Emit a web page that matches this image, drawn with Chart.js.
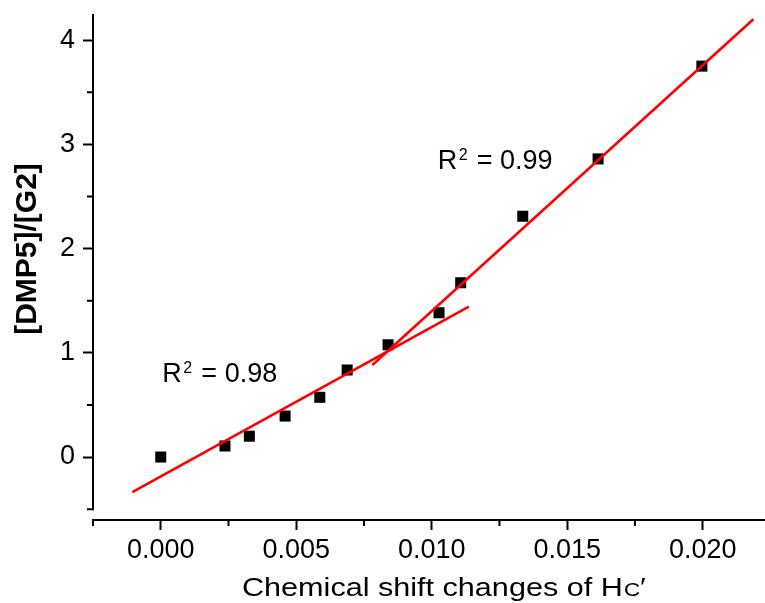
<!DOCTYPE html>
<html>
<head>
<meta charset="utf-8">
<script src="https://cdn.jsdelivr.net/npm/chart.js@4/dist/chart.umd.min.js"></script>
<style>
  html, body { margin: 0; padding: 0; background: #fff; }
  #wrap { width: 765px; height: 603px; }
</style>
</head>
<body>
<div id="wrap"><canvas id="fitChart" width="765" height="603"></canvas></div>
<script>
// measured points
const shiftX = [0.0000, 0.00237, 0.00327, 0.00459, 0.00587, 0.00688, 0.00839, 0.01027, 0.01107, 0.01336, 0.01614, 0.01997];
const ratioY = [0.00, 0.106, 0.20, 0.393, 0.573, 0.835, 1.077, 1.384, 1.672, 2.31, 2.86, 3.75];

// fitted lines (end points as drawn)
const fitLowX = [-0.00105, 0.01137];
const fitLowY = [-0.336, 1.442];
const fitHighX = [0.00781, 0.02187];
const fitHighY = [0.883, 4.20];

const xTicks = [0, 0.005, 0.010, 0.015, 0.020];
const yTicks = [0, 1, 2, 3, 4];
const xMinor = [-0.0025, 0.0025, 0.0075, 0.0125, 0.0175, 0.0225];
const yMinor = [-0.5, 0.5, 1.5, 2.5, 3.5];

const r2Labels = [
    { x: 0.00006, y: 0.72, text: "0.98" },
    { x: 0.01022, y: 2.76, text: "0.99" }
];

const FONT = "'Liberation Sans', Arial, sans-serif";

function toPoints(xs, ys) {
    return xs.map((x, i) => ({ x: x, y: ys[i] }));
}

// axis line for y, minor ticks, titles and R² notes
const extras = {
    id: "extras",
    afterDraw(chart) {
        const ctx = chart.ctx;
        const xs = chart.scales.x;
        const ys = chart.scales.y;
        const left = chart.chartArea.left;
        const bottom = chart.chartArea.bottom;

        ctx.save();
        ctx.strokeStyle = "#000";
        ctx.lineWidth = 2;

        // y axis stops at -0.5
        ctx.beginPath();
        ctx.moveTo(left, ys.getPixelForValue(-0.5) + 1);
        ctx.lineTo(left, chart.chartArea.top);
        ctx.stroke();

        ctx.beginPath();
        yMinor.forEach(v => {
            const p = ys.getPixelForValue(v);
            ctx.moveTo(left, p);
            ctx.lineTo(left - 6, p);
        });
        xMinor.forEach(v => {
            if (v > xs.max) return;
            const p = xs.getPixelForValue(v);
            ctx.moveTo(p, bottom);
            ctx.lineTo(p, bottom + 6);
        });
        ctx.stroke();

        ctx.fillStyle = "#000";

        // y title
        ctx.save();
        ctx.translate(28, 249);
        ctx.rotate(-Math.PI / 2);
        ctx.font = "bold 30px " + FONT;
        ctx.textAlign = "center";
        ctx.textBaseline = "middle";
        ctx.fillText("[DMP5]/[G2]", 0, 0);
        ctx.restore();

        // x title with small-cap c
        ctx.save();
        ctx.textBaseline = "alphabetic";
        ctx.textAlign = "left";
        const main = "Chemical shift changes of H";
        ctx.font = "26px " + FONT;
        const w1 = ctx.measureText(main).width;
        ctx.font = "19px " + FONT;
        const w2 = ctx.measureText("C").width;
        ctx.font = "26px " + FONT;
        const w3 = ctx.measureText("\u2032").width;
        const sx = 405 / (w1 + w2 + w3 + 2);
        ctx.translate(242, 596);
        ctx.scale(sx, 1);
        ctx.font = "26px " + FONT;
        ctx.fillText(main, 0, 0);
        ctx.font = "19px " + FONT;
        ctx.fillText("C", w1 + 1, 0);
        ctx.font = "26px " + FONT;
        ctx.fillText("\u2032", w1 + w2 + 1, 0);
        ctx.restore();

        // R² notes
        r2Labels.forEach(l => {
            const px = xs.getPixelForValue(l.x);
            const py = ys.getPixelForValue(l.y);
            ctx.save();
            ctx.textBaseline = "alphabetic";
            ctx.textAlign = "left";
            ctx.translate(px, py);
            ctx.font = "27px " + FONT;
            ctx.fillText("R", 0, 0);
            ctx.font = "16px " + FONT;
            ctx.fillText("2", 21, -9);
            ctx.font = "27px " + FONT;
            ctx.fillText("= " + l.text, 39, 0);
            ctx.restore();
        });

        ctx.restore();
    }
};

const ctx = document.getElementById("fitChart").getContext("2d");

const chart = new Chart(ctx, {
    type: "scatter",
    data: {
        datasets: [
            {
                type: "line",
                data: toPoints(fitLowX, fitLowY),
                borderColor: "#ff0000",
                borderWidth: 2.6,
                pointRadius: 0,
                fill: false,
                order: 0
            },
            {
                type: "line",
                data: toPoints(fitHighX, fitHighY),
                borderColor: "#ff0000",
                borderWidth: 2.6,
                pointRadius: 0,
                fill: false,
                order: 0
            },
            {
                data: toPoints(shiftX, ratioY),
                pointStyle: "rect",
                pointRadius: 7.8,
                pointHoverRadius: 7.8,
                backgroundColor: "#000",
                borderColor: "#000",
                borderWidth: 0,
                order: 1
            }
        ]
    },
    options: {
        responsive: false,
        animation: false,
        events: [],
        layout: { autoPadding: false, padding: { top: 14, right: 0, left: 0, bottom: 0 } },
        plugins: {
            legend: { display: false },
            tooltip: { enabled: false }
        },
        scales: {
            x: {
                type: "linear",
                min: -0.0025,
                max: 0.0223,
                afterFit: s => {
                    s.height = 83;
                    s.paddingLeft = 0;
                    s.paddingRight = 0;
                },
                afterBuildTicks: s => { s.ticks = xTicks.map(v => ({ value: v })); },
                border: { display: true, color: "#000", width: 2 },
                grid: {
                    drawOnChartArea: false,
                    drawTicks: true,
                    tickLength: 10,
                    tickWidth: 2,
                    tickColor: "#000"
                },
                ticks: {
                    padding: 4,
                    color: "#000",
                    font: { family: FONT, size: 27 },
                    maxRotation: 0,
                    callback: v => v.toFixed(3)
                }
            },
            y: {
                type: "linear",
                min: -0.604,
                max: 4.25,
                afterFit: s => {
                    s.width = 93;
                    s.paddingTop = 0;
                    s.paddingBottom = 0;
                },
                afterBuildTicks: s => { s.ticks = yTicks.map(v => ({ value: v })); },
                border: { display: false },
                grid: {
                    drawOnChartArea: false,
                    drawTicks: true,
                    tickLength: 10,
                    tickWidth: 2,
                    tickColor: "#000"
                },
                ticks: {
                    padding: 8,
                    color: "#000",
                    font: { family: FONT, size: 27 },
                    callback: v => String(v)
                }
            }
        }
    },
    plugins: [extras]
});
</script>
</body>
</html>
